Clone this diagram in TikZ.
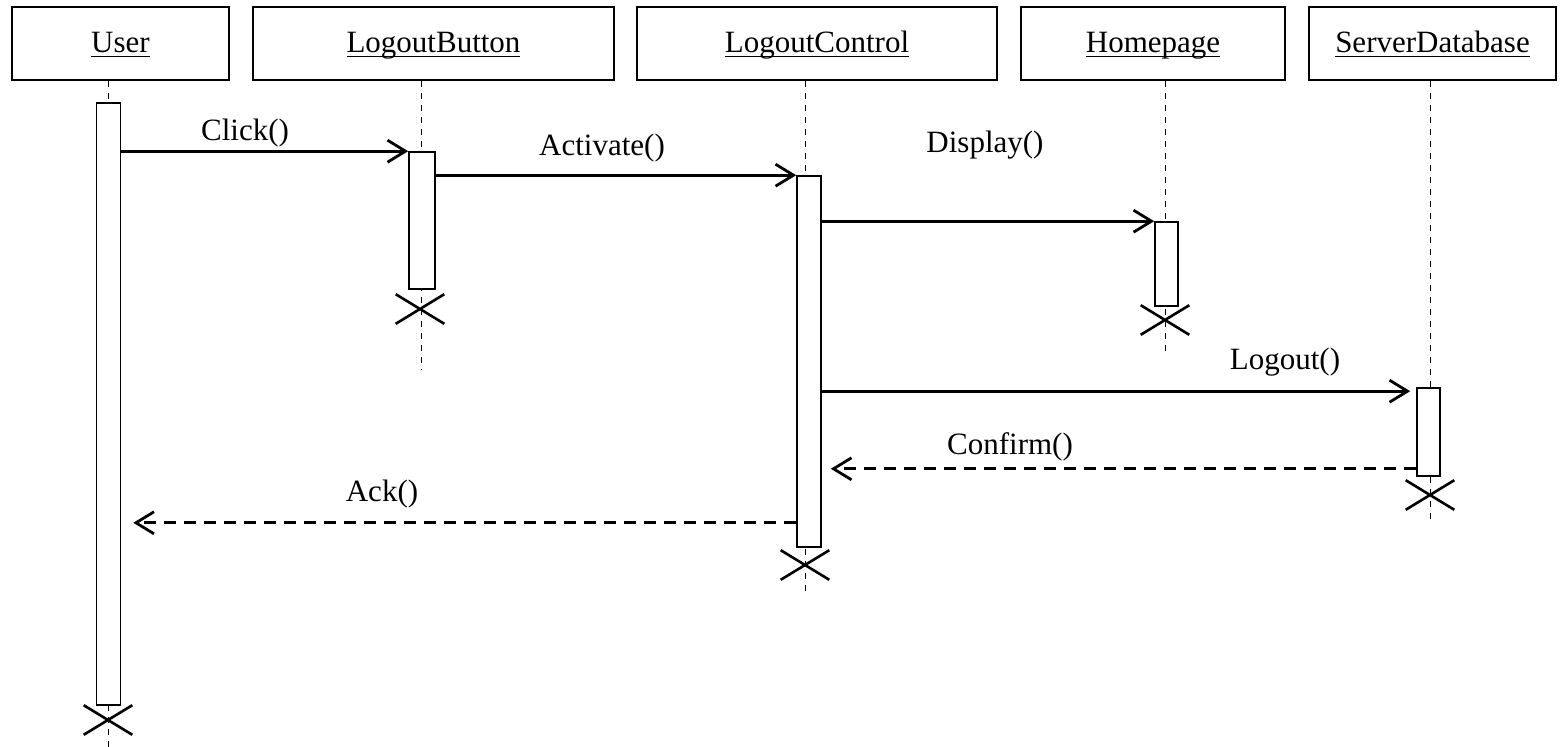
\documentclass[tikz,border=0pt]{standalone}
\usepackage{amsmath}
\usepackage{fontspec}
\setmainfont{Liberation Serif}
\usetikzlibrary{arrows.meta}
\usetikzlibrary{shapes.misc}
\tikzset{
  % open arrow tips for the messages
  >={Straight Barb[length=9pt,width=11pt]},
  object/.style={draw, rectangle, line width=0.8pt, minimum height=36.5pt, inner sep=0pt, text height=2.8ex, text depth=0.8ex},
  activation/.style={draw, rectangle, fill=white, line width=0.8pt, minimum width=12pt, inner sep=0pt},
  lifeline/.style={draw, dash pattern=on 3pt off 3pt, line width=0.5pt},
  call/.style={draw, ->, line width=1.4pt},
  reply/.style={draw, ->, line width=1.4pt, dash pattern=on 6pt off 4pt},
  destroy/.style={draw, cross out, line width=1.3pt, minimum width=23pt, minimum height=13.5pt, inner sep=0pt}
}
\newcommand{\objname}[1]{\underline{\smash[b]{#1}}}

\begin{document}
\begin{tikzpicture}[x=0.5pt, y=-0.5pt, font=\fontsize{15.5}{18}\selectfont]
    \useasboundingbox (0,0) rectangle (1564,747);

    % Place nodes - objects
    \node [object, minimum width=108.5pt] (user) at (120.5,43.5) {\objname{User}};
    \node [object, minimum width=180.5pt] (button) at (433.5,43.5) {\objname{LogoutButton}};
    \node [object, minimum width=180pt] (control) at (817,43.5) {\objname{LogoutControl}};
    \node [object, minimum width=132pt] (home) at (1153,43.5) {\objname{Homepage}};
    \node [object, minimum width=123.5pt] (server) at (1432.5,43.5) {\objname{ServerDatabase}};

    % Lifeline ends
    \coordinate (userEnd) at (108,747);
    \coordinate (buttonEnd) at (421,370);
    \coordinate (controlEnd) at (805,595);
    \coordinate (homeEnd) at (1165,355);
    \coordinate (serverEnd) at (1430,522);

    % Draw lifelines
    \path [lifeline] (userEnd |- user.south) -- (userEnd);
    \path [lifeline] (buttonEnd |- button.south) -- (buttonEnd);
    \path [lifeline] (controlEnd |- control.south) -- (controlEnd);
    \path [lifeline] (homeEnd |- home.south) -- (homeEnd);
    \path [lifeline] (serverEnd |- server.south) -- (serverEnd);

    % Place nodes - activations
    \node [activation, minimum height=301pt] (userAct) at (108.5,404) {};
    \node [activation, minimum width=13pt, minimum height=68.5pt] (buttonAct) at (422,220.5) {};
    \node [activation, minimum height=185.5pt] (controlAct) at (809,361.5) {};
    \node [activation, minimum width=11.5pt, minimum height=42pt] (homeAct) at (1166.5,264) {};
    \node [activation, minimum width=11.5pt, minimum height=44pt] (serverAct) at (1428.5,432) {};

    % Place nodes - destruction marks
    \node [destroy] (userX) at (108,720) {};
    \node [destroy] (buttonX) at (420,309) {};
    \node [destroy] (controlX) at (805,565) {};
    \node [destroy] (homeX) at (1165,320) {};
    \node [destroy] (serverX) at (1430,495) {};

    % Draw messages
    \path [call] (userAct.east |- buttonAct.north west) -- (buttonAct.north west);
    \path [call] (buttonAct.east |- controlAct.north west) -- (controlAct.north west);
    \path [call] (controlAct.east |- homeAct.north west) -- (homeAct.north west);
    \coordinate (logoutEnd) at ([yshift=-2pt]serverAct.north west);
    \path [call, shorten >=3pt] (controlAct.east |- logoutEnd) -- (logoutEnd);
    \coordinate (confirmStart) at ([yshift=4pt]serverAct.south west);
    \path [reply, shorten >=4.5pt] (confirmStart) -- (controlAct.east |- confirmStart);
    \coordinate (ackStart) at ([yshift=12.5pt]controlAct.south west);
    \path [reply, shorten >=6pt] (ackStart) -- (userAct.east |- ackStart);

    % Message labels
    \node (clickLbl) at (245,133) {Click()};
    \node (activateLbl) at (602,148) {Activate()};
    \node (displayLbl) at (985,145) {Display()};
    \node (logoutLbl) at (1285,362) {Logout()};
    \node (confirmLbl) at (1010,447) {Confirm()};
    \node (ackLbl) at (382,494) {Ack()};

\end{tikzpicture}
\end{document}
